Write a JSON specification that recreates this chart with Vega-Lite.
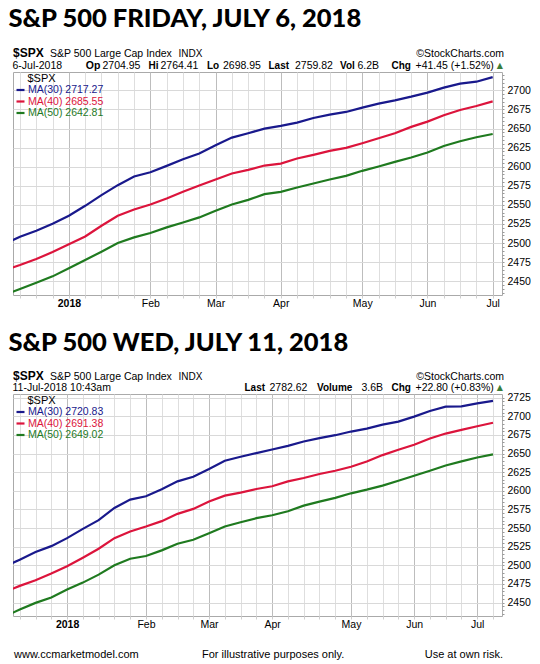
{
  "$schema": "https://vega.github.io/schema/vega-lite/v6.json",
  "background": "white",
  "padding": {"left": 8, "top": 6, "right": 0, "bottom": 0},
  "spacing": 21,
  "config": {
    "view": {"stroke": "#aaaaaa"},
    "text": {"baseline": "alphabetic", "align": "left", "font": "Liberation Sans", "fontSize": 10.5, "color": "#000000"},
    "axis": {"domain": false, "title": null, "labelFont": "Liberation Sans", "labelFontSize": 10.5, "labelColor": "#000000", "labelOverlap": false, "labelFlush": false, "labelBound": false},
    "legend": {"orient": "none", "legendX": 2, "legendY": 12.5, "padding": 0, "symbolType": "stroke", "symbolSize": 64, "symbolStrokeWidth": 2.2, "labelFont": "Liberation Sans", "labelFontSize": 10.5, "labelOffset": 2, "rowPadding": 0.5}
  },
  "datasets": {
    "p1": [
      {"d": "2017-12-04", "a": 2498.3, "b": 2464.3, "c": 2432.0},
      {"d": "2017-12-11", "a": 2508.3, "b": 2471.2, "c": 2439.9},
      {"d": "2017-12-18", "a": 2516.1, "b": 2479.1, "c": 2448.1},
      {"d": "2017-12-25", "a": 2525.3, "b": 2488.2, "c": 2456.4},
      {"d": "2018-01-01", "a": 2535.7, "b": 2498.3, "c": 2466.9},
      {"d": "2018-01-08", "a": 2548.8, "b": 2508.7, "c": 2477.8},
      {"d": "2018-01-15", "a": 2562.7, "b": 2522.7, "c": 2488.7},
      {"d": "2018-01-22", "a": 2575.8, "b": 2535.7, "c": 2500.0},
      {"d": "2018-01-29", "a": 2587.1, "b": 2544.0, "c": 2507.4},
      {"d": "2018-02-05", "a": 2592.8, "b": 2550.5, "c": 2513.1},
      {"d": "2018-02-12", "a": 2601.1, "b": 2558.4, "c": 2520.5},
      {"d": "2018-02-19", "a": 2609.8, "b": 2567.1, "c": 2527.0},
      {"d": "2018-02-26", "a": 2617.2, "b": 2575.4, "c": 2533.6},
      {"d": "2018-03-05", "a": 2628.1, "b": 2583.2, "c": 2542.3},
      {"d": "2018-03-12", "a": 2638.1, "b": 2591.1, "c": 2550.5},
      {"d": "2018-03-19", "a": 2643.8, "b": 2595.9, "c": 2556.6},
      {"d": "2018-03-26", "a": 2649.9, "b": 2601.5, "c": 2564.1},
      {"d": "2018-04-02", "a": 2653.4, "b": 2604.1, "c": 2567.1},
      {"d": "2018-04-09", "a": 2657.7, "b": 2610.7, "c": 2572.8},
      {"d": "2018-04-16", "a": 2663.8, "b": 2615.5, "c": 2578.0},
      {"d": "2018-04-23", "a": 2668.2, "b": 2620.7, "c": 2583.2},
      {"d": "2018-04-30", "a": 2671.7, "b": 2624.6, "c": 2588.0},
      {"d": "2018-05-07", "a": 2677.3, "b": 2630.7, "c": 2594.6},
      {"d": "2018-05-14", "a": 2682.6, "b": 2637.3, "c": 2600.2},
      {"d": "2018-05-21", "a": 2686.9, "b": 2643.8, "c": 2606.3},
      {"d": "2018-05-28", "a": 2691.7, "b": 2652.1, "c": 2612.0},
      {"d": "2018-06-04", "a": 2697.0, "b": 2659.0, "c": 2618.5},
      {"d": "2018-06-11", "a": 2703.5, "b": 2667.3, "c": 2627.2},
      {"d": "2018-06-18", "a": 2708.7, "b": 2674.3, "c": 2633.3},
      {"d": "2018-06-25", "a": 2711.3, "b": 2679.5, "c": 2638.6},
      {"d": "2018-07-02", "a": 2717.27, "b": 2685.55, "c": 2642.81}
    ],
    "p2": [
      {"d": "2017-12-04", "a": 2497.8, "b": 2463.9, "c": 2430.9},
      {"d": "2017-12-11", "a": 2507.6, "b": 2472.4, "c": 2440.7},
      {"d": "2017-12-18", "a": 2517.8, "b": 2479.9, "c": 2449.6},
      {"d": "2017-12-25", "a": 2525.8, "b": 2488.9, "c": 2456.8},
      {"d": "2018-01-01", "a": 2536.5, "b": 2498.7, "c": 2467.5},
      {"d": "2018-01-08", "a": 2549.0, "b": 2510.3, "c": 2476.8},
      {"d": "2018-01-15", "a": 2560.6, "b": 2522.3, "c": 2487.5},
      {"d": "2018-01-22", "a": 2577.1, "b": 2536.5, "c": 2500.0},
      {"d": "2018-01-29", "a": 2588.2, "b": 2545.5, "c": 2508.9},
      {"d": "2018-02-05", "a": 2592.7, "b": 2552.1, "c": 2512.5},
      {"d": "2018-02-12", "a": 2602.0, "b": 2559.3, "c": 2520.1},
      {"d": "2018-02-19", "a": 2612.7, "b": 2569.1, "c": 2529.0},
      {"d": "2018-02-26", "a": 2619.0, "b": 2575.8, "c": 2534.3},
      {"d": "2018-03-05", "a": 2629.2, "b": 2585.6, "c": 2543.2},
      {"d": "2018-03-12", "a": 2640.4, "b": 2593.6, "c": 2552.1},
      {"d": "2018-03-19", "a": 2645.7, "b": 2597.6, "c": 2557.9},
      {"d": "2018-03-26", "a": 2650.6, "b": 2602.5, "c": 2563.3},
      {"d": "2018-04-02", "a": 2655.5, "b": 2606.1, "c": 2567.3},
      {"d": "2018-04-09", "a": 2660.4, "b": 2612.7, "c": 2572.6},
      {"d": "2018-04-16", "a": 2666.2, "b": 2617.2, "c": 2580.2},
      {"d": "2018-04-23", "a": 2670.7, "b": 2622.6, "c": 2585.6},
      {"d": "2018-04-30", "a": 2674.7, "b": 2627.0, "c": 2590.5},
      {"d": "2018-05-07", "a": 2679.6, "b": 2632.4, "c": 2596.7},
      {"d": "2018-05-14", "a": 2683.6, "b": 2639.5, "c": 2601.6},
      {"d": "2018-05-21", "a": 2688.9, "b": 2648.0, "c": 2607.0},
      {"d": "2018-05-28", "a": 2693.0, "b": 2655.1, "c": 2613.6},
      {"d": "2018-06-04", "a": 2699.6, "b": 2661.8, "c": 2620.3},
      {"d": "2018-06-11", "a": 2707.2, "b": 2670.2, "c": 2627.0},
      {"d": "2018-06-18", "a": 2713.0, "b": 2676.9, "c": 2634.1},
      {"d": "2018-06-25", "a": 2713.5, "b": 2681.8, "c": 2639.5},
      {"d": "2018-07-02", "a": 2717.5, "b": 2686.7, "c": 2644.8},
      {"d": "2018-07-09", "a": 2720.83, "b": 2691.38, "c": 2649.02}
    ]
  },
  "resolve": {"scale": {"color": "independent"}, "legend": {"color": "independent"}},
  "vconcat": [
    {
      "width": 489,
      "height": 223,
      "title": {"text": "S&P 500 FRIDAY, JULY 6, 2018", "anchor": "start", "font": "Lato", "fontSize": 25.5, "fontWeight": 900, "color": "#000000", "baseline": "alphabetic", "offset": -5, "dx": -4},
      "layer": [
        {
          "data": {"name": "p1"},
          "transform": [{"fold": ["a", "b", "c"], "as": ["s", "v"]}],
          "mark": {"type": "line", "strokeWidth": 2.2, "clip": true},
          "encoding": {
            "x": {
              "field": "d", "type": "temporal",
              "scale": {"type": "utc", "domain": [{"year": 2017, "month": 12, "date": 8, "utc": true}, {"year": 2018, "month": 7, "date": 6, "utc": true}]},
              "axis": {
                "values": [1512950400000, 1513555200000, 1514160000000, 1514764800000, 1515369600000, 1515974400000, 1516579200000, 1517184000000, 1517788800000, 1518393600000, 1518998400000, 1519603200000, 1520208000000, 1520812800000, 1521417600000, 1522022400000, 1522627200000, 1523232000000, 1523836800000, 1524441600000, 1525046400000, 1525651200000, 1526256000000, 1526860800000, 1527465600000, 1528070400000, 1528675200000, 1529280000000, 1529884800000, 1530489600000],
                "labelExpr": "utcdate(datum.value) <= 7 ? (utcmonth(datum.value) == 0 ? '2018' : utcFormat(datum.value, '%b')) : ''",
                "labelFontWeight": {"condition": {"test": "utcmonth(datum.value) == 0 && utcdate(datum.value) <= 7", "value": "bold"}, "value": "normal"},
                "grid": true,
                "gridColor": {"condition": {"test": "utcdate(datum.value) <= 7", "value": "#bdbdbd"}, "value": "#dedede"},
                "tickSize": 3, "tickColor": "#cfcfcf", "labelPadding": 0
              }
            },
            "y": {
              "field": "v", "type": "quantitative",
              "scale": {"domain": [2432, 2724], "nice": false, "zero": false},
              "axis": {
                "orient": "right",
                "values": [2435, 2440, 2445, 2450, 2455, 2460, 2465, 2470, 2475, 2480, 2485, 2490, 2495, 2500, 2505, 2510, 2515, 2520, 2525, 2530, 2535, 2540, 2545, 2550, 2555, 2560, 2565, 2570, 2575, 2580, 2585, 2590, 2595, 2600, 2605, 2610, 2615, 2620, 2625, 2630, 2635, 2640, 2645, 2650, 2655, 2660, 2665, 2670, 2675, 2680, 2685, 2690, 2695, 2700, 2705, 2710, 2715, 2720],
                "format": "d",
                "labelExpr": "datum.value % 25 == 0 ? datum.label : ''",
                "grid": true,
                "gridColor": "#d9d9d9",
                "gridOpacity": {"condition": {"test": "datum.value % 25 != 0", "value": 0}, "value": 1},
                "tickSize": 2, "tickColor": "#999999", "labelPadding": 3
              }
            },
            "color": {
              "field": "s", "type": "nominal",
              "scale": {"domain": ["a", "b", "c"], "range": ["#19198c", "#dc143c", "#1f7a1f"]},
              "legend": {
                "title": null,
                "labelExpr": "datum.value == 'a' ? 'MA(30) 2717.27' : datum.value == 'b' ? 'MA(40) 2685.55' : 'MA(50) 2642.81'",
                "encode": {"labels": {"update": {"fill": {"signal": "datum.value == 'a' ? '#19198c' : datum.value == 'b' ? '#dc143c' : '#1f7a1f'"}}}}
              }
            }
          }
        },
        {"data": {"values": [{"t": "$SPX"}]}, "mark": {"type": "text", "dx": 14.5, "dy": 9.5, "fontSize": 11}, "encoding": {"x": {"value": 0}, "y": {"value": 0}, "text": {"field": "t"}}},
        {"data": {"values": [{"t": "$SPX"}]}, "mark": {"type": "text", "dx": 0, "dy": -15, "fontSize": 12, "fontWeight": "bold"}, "encoding": {"x": {"value": 0}, "y": {"value": 0}, "text": {"field": "t"}}},
        {"data": {"values": [{"t": "S&P 500 Large Cap Index"}]}, "mark": {"type": "text", "dx": 37, "dy": -15}, "encoding": {"x": {"value": 0}, "y": {"value": 0}, "text": {"field": "t"}}},
        {"data": {"values": [{"t": "INDX"}]}, "mark": {"type": "text", "dx": 165.5, "dy": -15, "fontSize": 10}, "encoding": {"x": {"value": 0}, "y": {"value": 0}, "text": {"field": "t"}}},
        {"data": {"values": [{"t": "©StockCharts.com"}]}, "mark": {"type": "text", "align": "right", "dx": 2, "dy": -15}, "encoding": {"x": {"value": "width"}, "y": {"value": 0}, "text": {"field": "t"}}},
        {"data": {"values": [{"t": "6-Jul-2018"}]}, "mark": {"type": "text", "dx": -0.5, "dy": -3.5}, "encoding": {"x": {"value": 0}, "y": {"value": 0}, "text": {"field": "t"}}},
        {"data": {"values": [{"t": "Op"}]}, "mark": {"type": "text", "dx": 72.8, "dy": -3.5, "fontWeight": "bold", "fontSize": 10.5}, "encoding": {"x": {"value": 0}, "y": {"value": 0}, "text": {"field": "t"}}},
        {"data": {"values": [{"t": "2704.95"}]}, "mark": {"type": "text", "dx": 89.5, "dy": -3.5}, "encoding": {"x": {"value": 0}, "y": {"value": 0}, "text": {"field": "t"}}},
        {"data": {"values": [{"t": "Hi"}]}, "mark": {"type": "text", "dx": 135.5, "dy": -3.5, "fontWeight": "bold", "fontSize": 10}, "encoding": {"x": {"value": 0}, "y": {"value": 0}, "text": {"field": "t"}}},
        {"data": {"values": [{"t": "2764.41"}]}, "mark": {"type": "text", "dx": 147.5, "dy": -3.5}, "encoding": {"x": {"value": 0}, "y": {"value": 0}, "text": {"field": "t"}}},
        {"data": {"values": [{"t": "Lo"}]}, "mark": {"type": "text", "dx": 194, "dy": -3.5, "fontWeight": "bold", "fontSize": 10}, "encoding": {"x": {"value": 0}, "y": {"value": 0}, "text": {"field": "t"}}},
        {"data": {"values": [{"t": "2698.95"}]}, "mark": {"type": "text", "dx": 210, "dy": -3.5}, "encoding": {"x": {"value": 0}, "y": {"value": 0}, "text": {"field": "t"}}},
        {"data": {"values": [{"t": "Last"}]}, "mark": {"type": "text", "dx": 255.5, "dy": -3.5, "fontWeight": "bold", "fontSize": 10}, "encoding": {"x": {"value": 0}, "y": {"value": 0}, "text": {"field": "t"}}},
        {"data": {"values": [{"t": "2759.82"}]}, "mark": {"type": "text", "dx": 282, "dy": -3.5}, "encoding": {"x": {"value": 0}, "y": {"value": 0}, "text": {"field": "t"}}},
        {"data": {"values": [{"t": "Vol"}]}, "mark": {"type": "text", "dx": 327, "dy": -3.5, "fontWeight": "bold", "fontSize": 10}, "encoding": {"x": {"value": 0}, "y": {"value": 0}, "text": {"field": "t"}}},
        {"data": {"values": [{"t": "6.2B"}]}, "mark": {"type": "text", "dx": 344.5, "dy": -3.5}, "encoding": {"x": {"value": 0}, "y": {"value": 0}, "text": {"field": "t"}}},
        {"data": {"values": [{"t": "Chg"}]}, "mark": {"type": "text", "dx": 378.5, "dy": -3.5, "fontWeight": "bold", "fontSize": 10}, "encoding": {"x": {"value": 0}, "y": {"value": 0}, "text": {"field": "t"}}},
        {"data": {"values": [{"t": "+41.45 (+1.52%)"}]}, "mark": {"type": "text", "dx": 402.5, "dy": -3.5}, "encoding": {"x": {"value": 0}, "y": {"value": 0}, "text": {"field": "t"}}},
        {"data": {"values": [{"t": "▲"}]}, "mark": {"type": "text", "align": "right", "dx": 1, "dy": -4.5, "fontSize": 8, "font": "DejaVu Sans", "color": "#3a7d3a"}, "encoding": {"x": {"value": "width"}, "y": {"value": 0}, "text": {"field": "t"}}}
      ]
    },
    {
      "width": 489,
      "height": 222,
      "title": {"text": "S&P 500 WED, JULY 11, 2018", "anchor": "start", "font": "Lato", "fontSize": 25.5, "fontWeight": 900, "color": "#000000", "baseline": "alphabetic", "offset": -7, "dx": -4},
      "layer": [
        {
          "data": {"name": "p2"},
          "transform": [{"fold": ["a", "b", "c"], "as": ["s", "v"]}],
          "mark": {"type": "line", "strokeWidth": 2.2, "clip": true},
          "encoding": {
            "x": {
              "field": "d", "type": "temporal",
              "scale": {"type": "utc", "domain": [{"year": 2017, "month": 12, "date": 8, "utc": true}, {"year": 2018, "month": 7, "date": 13, "utc": true}]},
              "axis": {
                "values": [1512950400000, 1513555200000, 1514160000000, 1514764800000, 1515369600000, 1515974400000, 1516579200000, 1517184000000, 1517788800000, 1518393600000, 1518998400000, 1519603200000, 1520208000000, 1520812800000, 1521417600000, 1522022400000, 1522627200000, 1523232000000, 1523836800000, 1524441600000, 1525046400000, 1525651200000, 1526256000000, 1526860800000, 1527465600000, 1528070400000, 1528675200000, 1529280000000, 1529884800000, 1530489600000, 1531094400000],
                "labelExpr": "utcdate(datum.value) <= 7 ? (utcmonth(datum.value) == 0 ? '2018' : utcFormat(datum.value, '%b')) : ''",
                "labelFontWeight": {"condition": {"test": "utcmonth(datum.value) == 0 && utcdate(datum.value) <= 7", "value": "bold"}, "value": "normal"},
                "grid": true,
                "gridColor": {"condition": {"test": "utcdate(datum.value) <= 7", "value": "#bdbdbd"}, "value": "#dedede"},
                "tickSize": 3, "tickColor": "#cfcfcf", "labelPadding": 0
              }
            },
            "y": {
              "field": "v", "type": "quantitative",
              "scale": {"domain": [2432, 2730], "nice": false, "zero": false},
              "axis": {
                "orient": "right",
                "values": [2435, 2440, 2445, 2450, 2455, 2460, 2465, 2470, 2475, 2480, 2485, 2490, 2495, 2500, 2505, 2510, 2515, 2520, 2525, 2530, 2535, 2540, 2545, 2550, 2555, 2560, 2565, 2570, 2575, 2580, 2585, 2590, 2595, 2600, 2605, 2610, 2615, 2620, 2625, 2630, 2635, 2640, 2645, 2650, 2655, 2660, 2665, 2670, 2675, 2680, 2685, 2690, 2695, 2700, 2705, 2710, 2715, 2720, 2725],
                "format": "d",
                "labelExpr": "datum.value % 25 == 0 ? datum.label : ''",
                "grid": true,
                "gridColor": "#d9d9d9",
                "gridOpacity": {"condition": {"test": "datum.value % 25 != 0", "value": 0}, "value": 1},
                "tickSize": 2, "tickColor": "#999999", "labelPadding": 3
              }
            },
            "color": {
              "field": "s", "type": "nominal",
              "scale": {"domain": ["a", "b", "c"], "range": ["#19198c", "#dc143c", "#1f7a1f"]},
              "legend": {
                "title": null,
                "labelExpr": "datum.value == 'a' ? 'MA(30) 2720.83' : datum.value == 'b' ? 'MA(40) 2691.38' : 'MA(50) 2649.02'",
                "encode": {"labels": {"update": {"fill": {"signal": "datum.value == 'a' ? '#19198c' : datum.value == 'b' ? '#dc143c' : '#1f7a1f'"}}}}
              }
            }
          }
        },
        {"data": {"values": [{"t": "$SPX"}]}, "mark": {"type": "text", "dx": 14.5, "dy": 9.5, "fontSize": 11}, "encoding": {"x": {"value": 0}, "y": {"value": 0}, "text": {"field": "t"}}},
        {"data": {"values": [{"t": "$SPX"}]}, "mark": {"type": "text", "dx": 0, "dy": -14.5, "fontSize": 12, "fontWeight": "bold"}, "encoding": {"x": {"value": 0}, "y": {"value": 0}, "text": {"field": "t"}}},
        {"data": {"values": [{"t": "S&P 500 Large Cap Index"}]}, "mark": {"type": "text", "dx": 37, "dy": -14.5}, "encoding": {"x": {"value": 0}, "y": {"value": 0}, "text": {"field": "t"}}},
        {"data": {"values": [{"t": "INDX"}]}, "mark": {"type": "text", "dx": 165.5, "dy": -14.5, "fontSize": 10}, "encoding": {"x": {"value": 0}, "y": {"value": 0}, "text": {"field": "t"}}},
        {"data": {"values": [{"t": "©StockCharts.com"}]}, "mark": {"type": "text", "align": "right", "dx": 2, "dy": -14.5}, "encoding": {"x": {"value": "width"}, "y": {"value": 0}, "text": {"field": "t"}}},
        {"data": {"values": [{"t": "11-Jul-2018 10:43am"}]}, "mark": {"type": "text", "dx": -0.5, "dy": -3}, "encoding": {"x": {"value": 0}, "y": {"value": 0}, "text": {"field": "t"}}},
        {"data": {"values": [{"t": "Last"}]}, "mark": {"type": "text", "dx": 231.5, "dy": -3, "fontWeight": "bold", "fontSize": 10}, "encoding": {"x": {"value": 0}, "y": {"value": 0}, "text": {"field": "t"}}},
        {"data": {"values": [{"t": "2782.62"}]}, "mark": {"type": "text", "dx": 256.5, "dy": -3}, "encoding": {"x": {"value": 0}, "y": {"value": 0}, "text": {"field": "t"}}},
        {"data": {"values": [{"t": "Volume"}]}, "mark": {"type": "text", "dx": 304, "dy": -3, "fontWeight": "bold", "fontSize": 10}, "encoding": {"x": {"value": 0}, "y": {"value": 0}, "text": {"field": "t"}}},
        {"data": {"values": [{"t": "3.6B"}]}, "mark": {"type": "text", "dx": 348.5, "dy": -3}, "encoding": {"x": {"value": 0}, "y": {"value": 0}, "text": {"field": "t"}}},
        {"data": {"values": [{"t": "Chg"}]}, "mark": {"type": "text", "dx": 378.5, "dy": -3, "fontWeight": "bold", "fontSize": 10}, "encoding": {"x": {"value": 0}, "y": {"value": 0}, "text": {"field": "t"}}},
        {"data": {"values": [{"t": "+22.80 (+0.83%)"}]}, "mark": {"type": "text", "dx": 402.5, "dy": -3}, "encoding": {"x": {"value": 0}, "y": {"value": 0}, "text": {"field": "t"}}},
        {"data": {"values": [{"t": "▲"}]}, "mark": {"type": "text", "align": "right", "dx": 1, "dy": -4, "fontSize": 8, "font": "DejaVu Sans", "color": "#3a7d3a"}, "encoding": {"x": {"value": "width"}, "y": {"value": 0}, "text": {"field": "t"}}},
        {"data": {"values": [{"t": "www.ccmarketmodel.com"}]}, "mark": {"type": "text", "dx": 1, "dy": 42, "fontSize": 11}, "encoding": {"x": {"value": 0}, "y": {"value": "height"}, "text": {"field": "t"}}},
        {"data": {"values": [{"t": "For illustrative purposes only."}]}, "mark": {"type": "text", "dx": 189, "dy": 42, "fontSize": 11}, "encoding": {"x": {"value": 0}, "y": {"value": "height"}, "text": {"field": "t"}}},
        {"data": {"values": [{"t": "Use at own risk."}]}, "mark": {"type": "text", "align": "right", "dx": 1, "dy": 42, "fontSize": 11}, "encoding": {"x": {"value": "width"}, "y": {"value": "height"}, "text": {"field": "t"}}}
      ]
    }
  ]
}
